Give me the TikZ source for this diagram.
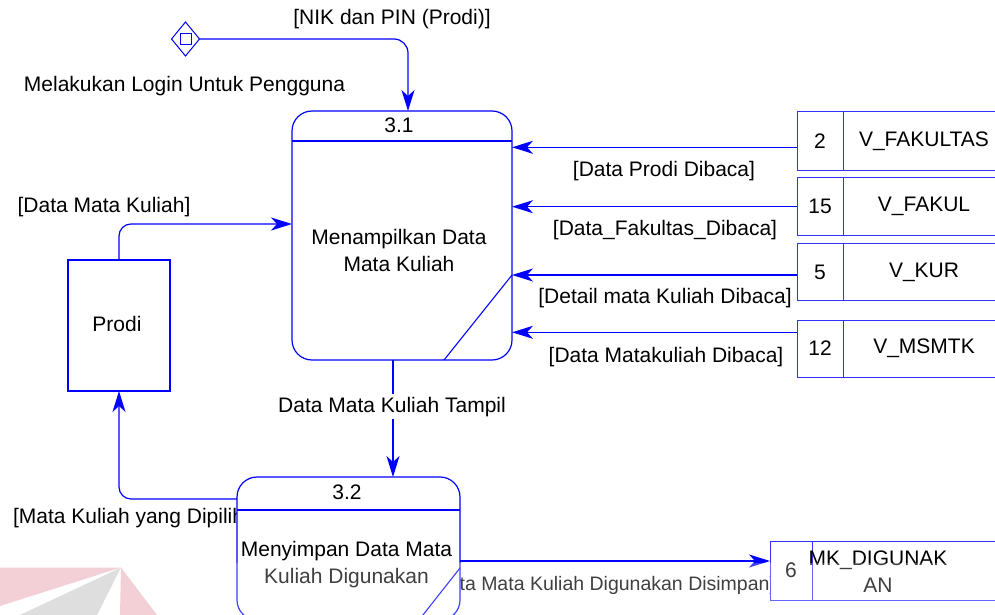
\documentclass[tikz,border=0pt]{standalone}
\usepackage{fontspec}
\setmainfont{Liberation Sans}
\usetikzlibrary{arrows.meta,shapes.geometric,calc}
\definecolor{dfdblue}{RGB}{0,0,255}
\definecolor{storeblue}{RGB}{50,50,255}
\definecolor{markpink}{RGB}{242,208,213}
\definecolor{markgrey}{RGB}{222,222,222}
\begin{document}
\begin{tikzpicture}[x=1pt,y=-1pt,
  every node/.style={font=\fontsize{21}{27}\selectfont, inner sep=0pt, outer sep=0pt},
  lbl/.style={anchor=base, text=black},
  flow/.style={draw=dfdblue, line width=1.2pt,
    -{Stealth[length=21pt,width=13pt,inset=6pt]}},
  proc/.style={rectangle, draw=dfdblue, line width=1.2pt, fill=white,
    rounded corners=20pt},
  procline/.style={draw=dfdblue, line width=1.1pt},
  entity/.style={rectangle, draw=dfdblue, line width=1.1pt, fill=white},
  cell/.style={rectangle, fill=white, draw=none},
  storeline/.style={draw=storeblue, line width=1pt},
  start/.style={diamond, draw=dfdblue, line width=1pt, fill=white,
    minimum width=28pt, minimum height=34pt},
  startbox/.style={rectangle, draw=dfdblue, line width=1pt,
    minimum width=11pt, minimum height=11pt}
]
\useasboundingbox (0,0) rectangle (995,615);

% ---- flow labels (drawn first, boxes may cover their ends) ----
\node[lbl] (lnik) at (392,25) {[NIK dan PIN (Prodi)]};
\node[lbl] (llogin) at (184.5,92) {Melakukan Login Untuk Pengguna};
\node[lbl] (lprodi) at (664,176) {[Data Prodi Dibaca]};
\node[lbl] (lfak) at (665,235) {[Data\_Fakultas\_Dibaca]};
\node[lbl] (lkur) at (665,303) {[Detail mata Kuliah Dibaca]};
\node[lbl] (lmsmtk) at (666,362) {[Data Matakuliah Dibaca]};
\node[lbl] (ldmk) at (104,212) {[Data Mata Kuliah]};
\node[lbl, anchor=base west] (lpilih) at (13,523) {[Mata Kuliah yang Dipilih]};
\node[lbl, anchor=base east, font=\fontsize{19.5}{24}\selectfont] (lsimpan) at (775,590)
  {[Data Mata Kuliah Digunakan Disimpan]};

% ---- start symbol ----
\node[start] (login) at (185.5,39) {};
\node[startbox] (loginbox) at (185.5,39.5) {};

% ---- processes ----
\node[proc, minimum width=220pt, minimum height=249pt] (p31) at (402,235.5) {};
\draw[procline] (p31.west |- 0,141) -- (p31.east |- 0,141);
\draw[procline] (p31.east |- 0,275) -- (444,360);
\node[lbl] (p31id) at (399,132) {3.1};
\node[lbl, align=center] (p31t) at (399,271) {Menampilkan Data\\Mata Kuliah};

\node[proc, minimum width=223pt, minimum height=143pt] (p32) at (348.5,548.5) {};
\draw[procline] (p32.west |- 0,510) -- (p32.east |- 0,510);
\draw[procline] (p32.east |- 0,568) -- (419,620);
\node[lbl] (p32id) at (347,499) {3.2};
\node[lbl, align=center] (p32t) at (346.5,583) {Menyimpan Data Mata\\Kuliah Digunakan};

% ---- external entity ----
\node[entity, minimum width=102pt, minimum height=131pt] (prodi) at (119,325.5) {};
\node[lbl] (prodit) at (117,331) {Prodi};

% ---- data stores: number cell + name cell, open on the right ----
\foreach \id/\top/\bot/\num/\name in {s1/111.7/170.7/2/V\_FAKULTAS,
    s2/177.3/235/15/V\_FAKUL, s3/243.3/300.7/5/V\_KUR, s4/320/377.3/12/V\_MSMTK} {
  \node[cell, minimum width=46pt, minimum height={\bot-\top}] (\id n) at (820,{(\top+\bot)/2}) {};
  \node[cell, minimum width=162pt, minimum height={\bot-\top}] (\id) at (924,{(\top+\bot)/2}) {};
  \draw[storeline] (\id.north east) -- (\id n.north west) -- (\id n.south west) -- (\id.south east);
  \draw[storeline] (\id n.north east) -- (\id n.south east);
  \node (\id num) at (\id n) {\num};
  \node (\id txt) at (\id) {\name};
}
\node[cell, minimum width=42pt, minimum height=59.3pt] (s6n) at (791,571.3) {};
\node[cell, minimum width=193pt, minimum height=59.3pt] (s6) at (908.5,571.3) {};
\draw[storeline] (s6.north east) -- (s6n.north west) -- (s6n.south west) -- (s6.south east);
\draw[storeline] (s6n.north east) -- (s6n.south east);
\node[lbl] (s6num) at (791,577) {6};
\node[lbl, align=center] (s6txt) at (878,592) {MK\_DIGUNAK\\AN};

% ---- data flows ----
\draw[flow, rounded corners=14pt] (login.east) -| ([xshift=6pt]p31.north);
\draw[flow] (s1n.west |- 0,147.3) -- (p31.east |- 0,147.3);
\draw[flow] (s2n.west |- 0,206.7) -- (p31.east |- 0,206.7);
\draw[flow] (s3n.west |- 0,275) -- (p31.east |- 0,275);
\draw[flow] (s4n.west |- 0,332.3) -- (p31.east |- 0,332.3);
\draw[flow, rounded corners=12pt] (prodi.north) |- (p31.west |- 0,224);
\draw[flow] (p31.south -| 393,0) -- (p32.north -| 393,0);
\draw[flow, rounded corners=12pt] (p32.west |- 0,499) -| (prodi.south);
\draw[flow] (p32.east |- 0,561) -- (s6n.west |- 0,561);

% label sitting on top of the 3.1 -> 3.2 flow
\node[lbl, fill=white, inner ysep=3pt] (ltampil) at (392,412) {Data Mata Kuliah Tampil};

% ---- light haze along the lower edge ----
\fill[white, opacity=0.25] (0,563) rectangle (995,615);

% ---- faint logo in the lower left corner ----
\fill[markpink] (0,567.5) -- (121,567.5) -- (0,606) -- cycle;
\fill[markgrey] (121,567.5) -- (20,615) -- (97,615) -- cycle;
\fill[markpink] (121,567.5) -- (120,615) -- (157,615) -- cycle;
\end{tikzpicture}
\end{document}
